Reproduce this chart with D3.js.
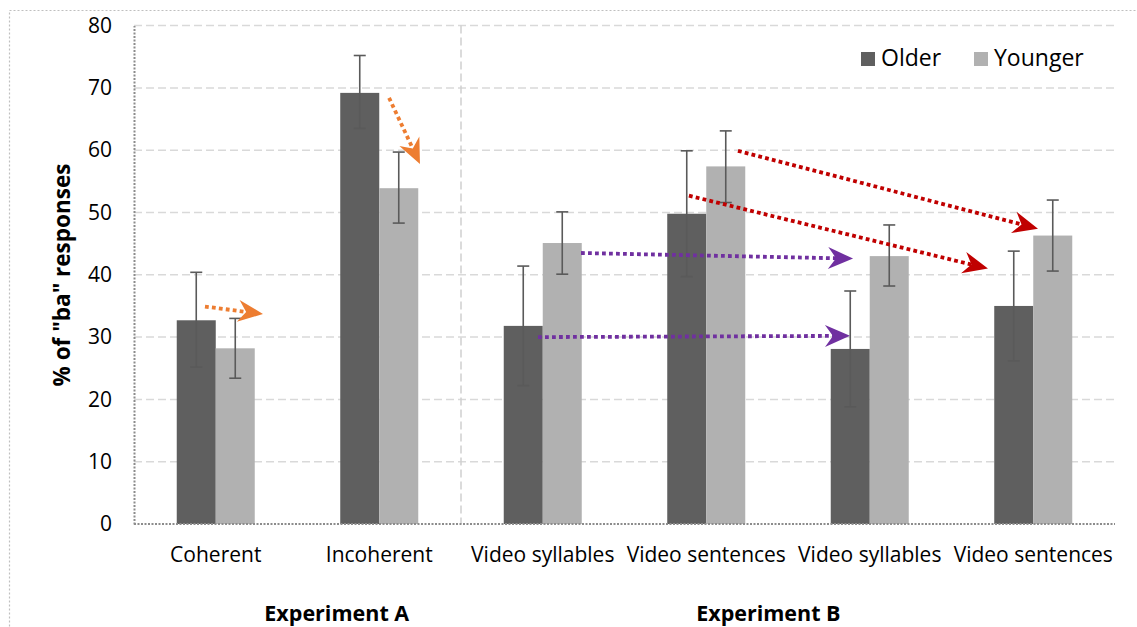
<!DOCTYPE html>
<html><head><meta charset="utf-8">
<script src="https://cdn.jsdelivr.net/npm/d3@7"></script>
<style>body{margin:0;background:#fff}svg{display:block}</style>
</head><body>
<svg id="c" width="1137" height="627"></svg>
<script>
const categories = ["Coherent","Incoherent","Video syllables","Video sentences","Video syllables","Video sentences"];
const seriesNames = ["Older","Younger"];
const olderValues = [32.7, 69.2, 31.8, 49.8, 28.1, 35.0];
const olderLow    = [25.2, 63.5, 22.2, 39.7, 18.8, 26.2];
const olderHigh   = [40.4, 75.2, 41.4, 59.9, 37.4, 43.8];
const youngerValues = [28.2, 53.9, 45.1, 57.4, 43.0, 46.3];
const youngerLow    = [23.4, 48.3, 40.1, 51.6, 38.2, 40.6];
const youngerHigh   = [33.0, 59.7, 50.1, 63.1, 48.0, 52.0];
const yTicks = [0,10,20,30,40,50,60,70,80];
const groupLabels = ["Experiment A","Experiment B"];
const groupCenters = [1.24, 3.88];   // in category units
const separatorAt = [2];              // category units
// arrows: start (category units, value) -> end (category units, value)
const arrowX0 = [0.434, 1.560, 2.734, 2.471, 3.694, 3.394];
const arrowY0 = [34.9, 68.4, 43.5, 30.0, 59.9, 52.7];
const arrowX1 = [0.789, 1.749, 4.398, 4.379, 5.529, 5.223];
const arrowY1 = [33.7, 57.8, 42.6, 30.2, 47.4, 41.0];
const arrowColors = ["#ED7D31","#ED7D31","#7030A0","#7030A0","#C00000","#C00000"];

const colors = {Older:"#5f5f5f", Younger:"#b1b1b1"};
const font = "'Open Sans', sans-serif";
const svg = d3.select("#c");
const W = 1137, H = 627;
const m = {left:134, right:1115, top:25.6, bottom:524};

// outer border
svg.append("rect").attr("x",9.5).attr("y",10.5).attr("width",W+20).attr("height",H+20)
  .attr("fill","none").attr("stroke","#bfbfbf").attr("stroke-width",1.2).attr("stroke-dasharray","2,2");

const idx = categories.map((d,i)=>i);
const x = d3.scaleBand().domain(idx).range([m.left,m.right]).paddingInner(0).paddingOuter(0);
const xu = d3.scaleLinear().domain([0,categories.length]).range([m.left,m.right]);
const y = d3.scaleLinear().domain([0,80]).range([m.bottom,m.top]);
const xs = d3.scaleBand().domain(seriesNames).range([0,x.bandwidth()]).paddingInner(0).paddingOuter(1.096);

// gridlines
svg.append("g").selectAll("line").data(yTicks.filter(t=>t>0)).join("line")
  .attr("x1",m.left).attr("x2",m.right).attr("y1",d=>y(d)).attr("y2",d=>y(d))
  .attr("stroke","#d9d9d9").attr("stroke-width",1.5).attr("stroke-dasharray","8,4");
// separator
svg.append("g").selectAll("line").data(separatorAt).join("line")
  .attr("x1",d=>xu(d)).attr("x2",d=>xu(d)).attr("y1",y(80)).attr("y2",y(0))
  .attr("stroke","#cfcfcf").attr("stroke-width",1.5).attr("stroke-dasharray","8,4");

// y axis
const yAxis = d3.axisLeft(y).tickValues(yTicks).tickSize(0).tickPadding(22);
const ga = svg.append("g").attr("transform",`translate(${m.left},0)`).call(yAxis);
ga.select(".domain").attr("stroke","#8c8c8c").attr("stroke-width",2).attr("stroke-dasharray","2,1.5");
ga.selectAll("text").attr("font-family",font).attr("font-size",21).attr("fill","#000");

// bars
const seriesData = [
  {name:"Older", v:olderValues, lo:olderLow, hi:olderHigh},
  {name:"Younger", v:youngerValues, lo:youngerLow, hi:youngerHigh}
];
const gb = svg.append("g");
seriesData.forEach(s=>{
  gb.append("g").selectAll("rect").data(idx).join("rect")
    .attr("x",i=>x(i)+xs(s.name)).attr("width",xs.bandwidth())
    .attr("y",i=>y(s.v[i])).attr("height",i=>y(0)-y(s.v[i]))
    .attr("fill",colors[s.name]);
});
// x axis baseline
svg.append("line").attr("x1",m.left).attr("x2",m.right).attr("y1",y(0)).attr("y2",y(0))
  .attr("stroke","#8c8c8c").attr("stroke-width",2).attr("stroke-dasharray","2,1.5");

// error bars
const ge = svg.append("g").attr("stroke","#5a5a5a").attr("stroke-width",1.6);
seriesData.forEach(s=>{
  idx.forEach(i=>{
    const cx = x(i)+xs(s.name)+xs.bandwidth()/2;
    ge.append("line").attr("x1",cx).attr("x2",cx).attr("y1",y(s.lo[i])).attr("y2",y(s.hi[i]));
    ge.append("line").attr("x1",cx-6).attr("x2",cx+6).attr("y1",y(s.lo[i])).attr("y2",y(s.lo[i]));
    ge.append("line").attr("x1",cx-6).attr("x2",cx+6).attr("y1",y(s.hi[i])).attr("y2",y(s.hi[i]));
  });
});

// category labels
svg.append("g").selectAll("text").data(idx).join("text")
  .attr("x",i=>x(i)+x.bandwidth()/2).attr("y",562)
  .attr("text-anchor","middle").attr("font-family",font).attr("font-size",21).attr("fill","#000")
  .text(i=>categories[i]);
// group labels
svg.append("g").selectAll("text").data(groupLabels).join("text")
  .attr("x",(d,i)=>xu(groupCenters[i])).attr("y",621)
  .attr("text-anchor","middle").attr("font-family",font).attr("font-size",21.5).attr("font-weight","bold").attr("fill","#000")
  .text(d=>d);
// y title
svg.append("text").attr("transform","translate(70,275) rotate(-90)")
  .attr("text-anchor","middle").attr("font-family",font).attr("font-size",22.5).attr("font-weight","bold")
  .text('% of "ba" responses');

// legend
const lg = svg.append("g");
const legendX = [861, 974];
seriesNames.forEach((n,i)=>{
  lg.append("rect").attr("x",legendX[i]).attr("y",52).attr("width",14).attr("height",14).attr("fill",colors[n]);
  lg.append("text").attr("x",legendX[i]+20).attr("y",66).attr("font-family",font).attr("font-size",23).text(n);
});

// arrows
const gArr = svg.append("g");
arrowColors.forEach((c,i)=>{
  const X0=xu(arrowX0[i]), Y0=y(arrowY0[i]), X1=xu(arrowX1[i]), Y1=y(arrowY1[i]);
  const L = Math.hypot(X1-X0,Y1-Y0);
  const ex = X0+(X1-X0)*(L-17)/L, ey = Y0+(Y1-Y0)*(L-17)/L;
  gArr.append("line").attr("x1",X0).attr("y1",Y0).attr("x2",ex).attr("y2",ey)
    .attr("stroke",c).attr("stroke-width",3.8).attr("stroke-dasharray","3.8,3.2");
  const ang = Math.atan2(Y1-Y0,X1-X0)*180/Math.PI;
  gArr.append("path").attr("d","M0,0 L-25,-11 L-17,0 L-25,11 Z").attr("fill",c)
    .attr("transform",`translate(${X1},${Y1}) rotate(${ang})`);
});
</script>
</body></html>
